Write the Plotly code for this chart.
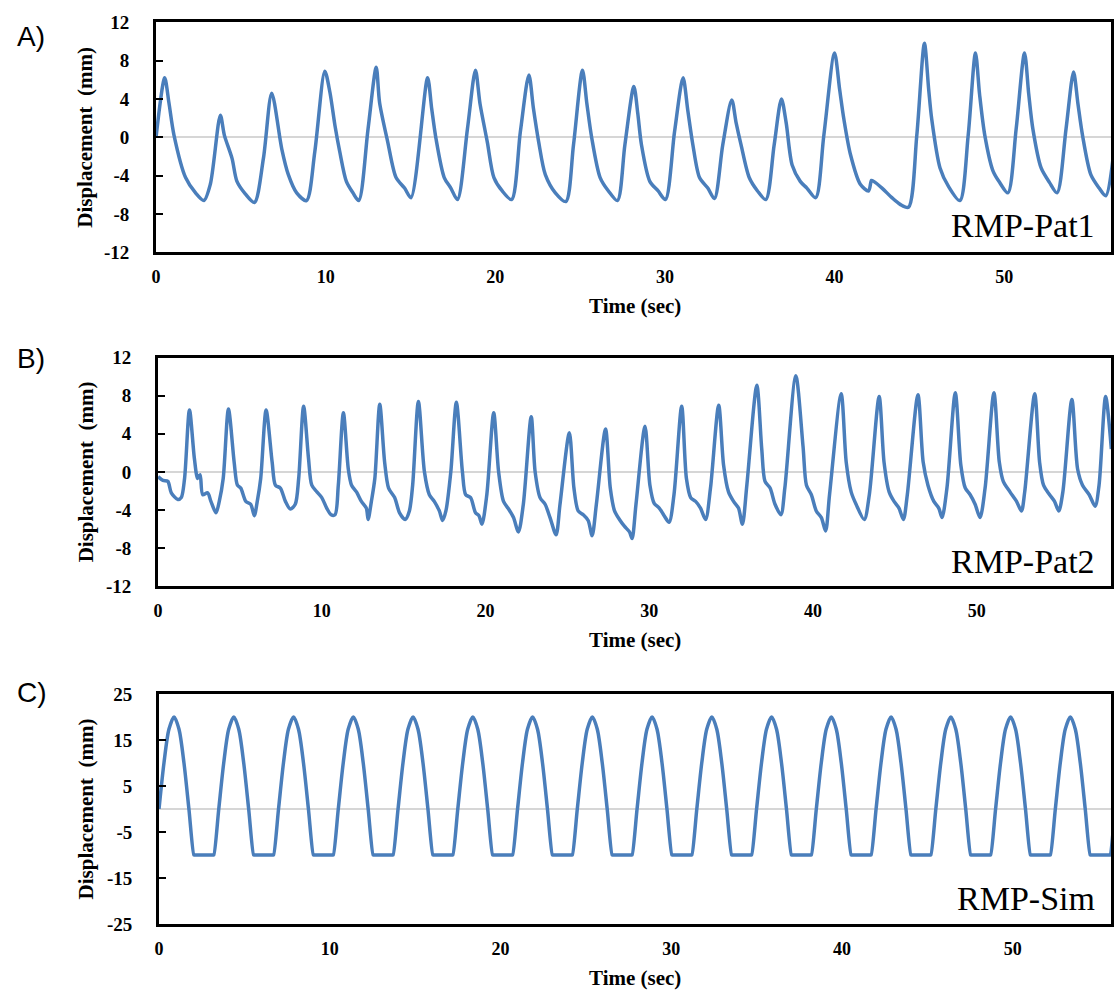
import plotly.graph_objects as go

W, H = 1114, 1003

# ---------------- Data ----------------
# Panel A: RMP-Pat1
pat1_time = [0, 0.51, 0.76, 1.06, 1.74, 2.33, 2.82, 3.2, 3.79, 4.03, 4.48, 4.77, 5.26, 5.8,
             6.33, 6.82, 7.41, 7.8, 8.29, 8.87, 9.36, 9.95, 10.25, 10.55, 10.83, 11.22, 11.61, 11.95,
             12.5, 12.98, 13.18, 13.66, 14.15, 14.65, 15.03, 16.01, 16.25, 16.5, 16.99, 17.38, 17.77,
             18.36, 18.83, 19.1, 19.53, 19.92, 20.41, 20.96, 21.48, 21.98, 22.25, 22.56, 22.95, 23.54,
             24.16, 24.61, 25.14, 25.4, 25.69, 26.18, 26.67, 27.2, 27.64, 28.17, 28.4, 28.62, 29.11,
             29.6, 30.03, 30.57, 31.07, 31.35, 31.65, 32.04, 32.53, 32.92, 33.41, 33.94, 34.2, 34.49,
             34.97, 35.46, 35.95, 36.44, 36.87, 37.15, 37.5, 37.98, 38.37, 38.89, 39.37, 40.0, 40.3,
             40.55, 40.94, 41.52, 42.01, 42.18, 42.31, 42.8, 43.38, 43.87, 44.36, 44.85, 45.3, 45.55,
             45.73, 46.22, 46.71, 47.39, 47.88, 48.31, 48.55, 48.86, 49.34, 49.73, 50.22, 50.71, 51.2,
             51.45, 51.69, 52.18, 52.67, 53.12, 53.65, 54.09, 54.35, 54.62, 55.11, 55.6, 55.99, 56.4]
pat1_disp = [0, 6.2, 3.6, 0.2, -4.2, -5.8, -6.6, -4.9, 2.3, 0.2, -2.2, -4.6, -5.9, -6.8,
             -2.2, 4.6, -1.2, -3.9, -5.8, -6.6, -1.5, 6.9, 4.7, 1.2, -1.5, -4.6, -5.8, -6.6,
             0.9, 7.3, 3.6, -0.5, -4.2, -5.3, -6.3, 6.2, 3.0, -0.1, -4.2, -5.3, -6.5,
             0.9, 7.0, 3.5, -0.5, -4.2, -5.6, -6.5, 0.6, 6.5, 3.0, -0.5, -3.9, -5.8,
             -6.7, -0.8, 7.0, 3.5, -0.1, -4.2, -5.6, -6.6, -0.8, 5.3, 2.5, -0.8, -4.6,
             -5.6, -6.5, 0.6, 6.2, 2.8, -0.8, -4.2, -5.3, -6.4, -0.8, 3.9, 1.5, -0.8,
             -4.2, -5.6, -6.5, -0.8, 4.0, 1.5, -2.9, -4.6, -5.3, -6.3, 0.2, 8.8, 5.0,
             1.9, -1.8, -4.9, -5.6, -4.5, -4.6, -5.3, -6.3, -7.0, -7.3, 0.2, 9.8, 5.0,
             1.9, -3.2, -5.1, -6.6, 0.2, 8.8, 4.5, 0.2, -3.5, -4.7, -5.8, 0.9, 8.8,
             4.5, 0.9, -3.2, -4.7, -5.8, 0.9, 6.8, 3.5, 0.2, -3.9, -5.3, -6.1, -2.5]

# Panel B: RMP-Pat2
pat2_time = [0, 0.3, 0.6, 0.81, 1.21, 1.42, 1.62, 1.92, 2.22, 2.42, 2.57, 2.73, 3.03, 3.23, 3.54,
             3.74, 3.98, 4.3, 4.65, 4.85, 5.05, 5.36, 5.66, 5.88, 6.06, 6.27, 6.6, 6.97, 7.17, 7.47,
             7.78, 8.08, 8.38, 8.59, 8.89, 9.19, 9.39, 9.7, 10.0, 10.3, 10.57, 10.81, 11.01, 11.32,
             11.62, 11.82, 12.12, 12.42, 12.72, 12.83, 13.03, 13.24, 13.54, 13.84, 14.08, 14.45,
             14.75, 15.09, 15.35, 15.55, 15.9, 16.27, 16.57, 16.87, 17.18, 17.38, 17.58, 17.88,
             18.22, 18.59, 18.79, 19.09, 19.39, 19.6, 19.78, 20.08, 20.5, 20.8, 21.1, 21.41, 21.71,
             22.01, 22.31, 22.79, 23.03, 23.33, 23.64, 23.94, 24.31, 24.55, 25.12, 25.4, 25.66,
             25.97, 26.27, 26.51, 26.77, 27.33, 27.62, 27.88, 28.18, 28.48, 28.79, 28.95, 29.19,
             29.74, 30.04, 30.3, 30.61, 30.91, 31.21, 31.51, 31.98, 32.27, 32.53, 32.83, 33.13,
             33.44, 33.74, 34.24, 34.54, 34.84, 35.15, 35.45, 35.69, 35.96, 36.57, 36.87, 37.07,
             37.38, 37.68, 38.04, 38.28, 38.95, 39.39, 39.6, 39.9, 40.2, 40.51, 40.77, 41.01,
             41.72, 42.03, 42.33, 42.63, 43.13, 43.44, 44.04, 44.34, 44.65, 44.95, 45.25, 45.52,
             45.76, 46.41, 46.73, 47.02, 47.38, 47.68, 47.88, 48.18, 48.69, 49.03, 49.3, 49.6,
             49.9, 50.2, 50.51, 51.05, 51.38, 51.62, 52.03, 52.43, 52.73, 52.93, 53.54, 53.84,
             54.08, 54.45, 54.75, 55.01, 55.26, 55.81, 56.16, 56.46, 56.87, 57.23, 57.47, 57.87,
             58.22]
pat2_disp = [-0.5, -0.9, -1.0, -2.2, -2.9, -2.7, -0.7, 6.5, 1.4, -0.7, -0.3, -2.4, -2.2, -3.1, -4.3,
             -3.1, -0.7, 6.6, 1.0, -1.4, -1.7, -3.1, -3.4, -4.6, -3.1, -0.7, 6.5, 1.0, -1.4, -1.7,
             -3.1, -3.9, -3.4, -0.7, 6.9, 1.4, -1.4, -2.1, -2.7, -3.8, -4.5, -4.5, -1.4, 6.2,
             0.3, -1.4, -2.1, -3.1, -3.8, -5.0, -3.1, -0.7, 7.1, 1.0, -1.7, -2.7,
             -4.3, -5.0, -4.1, -1.4, 7.4, 0.0, -2.4, -3.1, -4.1, -5.1, -4.1, 0.0,
             7.3, 0.0, -2.4, -2.7, -4.3, -4.6, -5.5, -2.4, 6.2, 0.0, -3.1, -3.9, -4.8,
             -6.3, -3.4, 5.8, 0.0, -2.7, -3.4, -4.8, -6.6, -3.4, 4.1, -1.7, -4.1,
             -4.5, -5.1, -6.7, -3.4, 4.5, -1.7, -4.1, -5.0, -5.7, -6.3, -7.0, -3.4,
             4.8, -1.4, -3.3, -3.8, -4.6, -5.3, -2.4, 6.9, -0.7, -2.7, -3.1, -3.8,
             -5.0, -1.7, 7.0, 0.7, -2.1, -3.1, -3.8, -5.5, -1.4, 9.1, 2.4, -1.0,
             -1.7, -3.4, -4.5, -1.7, 10.1, 2.7, -1.4, -2.4, -4.1, -4.8, -6.2, -2.4,
             8.2, 1.0, -2.1, -3.4, -5.0, -2.4, 7.9, 1.0, -2.1, -3.1, -3.8, -5.0,
             -2.4, 8.1, 1.0, -1.4, -3.1, -3.8, -4.8, -1.7, 8.3, 0.7, -1.7, -2.4,
             -3.4, -4.8, -1.7, 8.3, 1.0, -1.0, -2.1, -3.1, -4.1, -2.1, 8.2, 1.0,
             -1.4, -2.4, -3.1, -4.1, -2.1, 7.6, 0.3, -1.4, -2.4, -3.6, -1.4, 7.9,
             2.4]

# Panel C: RMP-Sim
sim_time = [0, 0.29, 0.58, 0.88, 1.17, 1.46, 1.75, 2.04, 2.07, 3.18, 3.21,
            3.5, 3.79, 4.08, 4.38, 4.67, 4.96, 5.25, 5.54, 5.57, 6.68, 6.71,
            7, 7.29, 7.58, 7.88, 8.17, 8.46, 8.75, 9.04, 9.07, 10.18, 10.21,
            10.5, 10.79, 11.08, 11.38, 11.67, 11.96, 12.25, 12.54, 12.57, 13.68, 13.71,
            14, 14.29, 14.58, 14.88, 15.17, 15.46, 15.75, 16.04, 16.07, 17.18, 17.21,
            17.5, 17.79, 18.08, 18.38, 18.67, 18.96, 19.25, 19.54, 19.57, 20.68, 20.71,
            21, 21.29, 21.58, 21.88, 22.17, 22.46, 22.75, 23.04, 23.07, 24.18, 24.21,
            24.5, 24.79, 25.08, 25.38, 25.67, 25.96, 26.25, 26.54, 26.57, 27.68, 27.71,
            28, 28.29, 28.58, 28.88, 29.17, 29.46, 29.75, 30.04, 30.07, 31.18, 31.21,
            31.5, 31.79, 32.08, 32.38, 32.67, 32.96, 33.25, 33.54, 33.57, 34.68, 34.71,
            35, 35.29, 35.58, 35.88, 36.17, 36.46, 36.75, 37.04, 37.07, 38.18, 38.21,
            38.5, 38.79, 39.08, 39.38, 39.67, 39.96, 40.25, 40.54, 40.57, 41.68, 41.71,
            42, 42.29, 42.58, 42.88, 43.17, 43.46, 43.75, 44.04, 44.07, 45.18, 45.21,
            45.5, 45.79, 46.08, 46.38, 46.67, 46.96, 47.25, 47.54, 47.57, 48.68, 48.71,
            49, 49.29, 49.58, 49.88, 50.17, 50.46, 50.75, 51.04, 51.07, 52.18, 52.21,
            52.5, 52.79, 53.08, 53.38, 53.67, 53.96, 54.25, 54.54, 54.57, 55.68, 55.71,
            56, 56.29]
sim_disp = [0, 10, 17.3, 20, 17.3, 10, 0, -10, -10, -10, -10,
            0, 10, 17.3, 20, 17.3, 10, 0, -10, -10, -10, -10,
            0, 10, 17.3, 20, 17.3, 10, 0, -10, -10, -10, -10,
            0, 10, 17.3, 20, 17.3, 10, 0, -10, -10, -10, -10,
            0, 10, 17.3, 20, 17.3, 10, 0, -10, -10, -10, -10,
            0, 10, 17.3, 20, 17.3, 10, 0, -10, -10, -10, -10,
            0, 10, 17.3, 20, 17.3, 10, 0, -10, -10, -10, -10,
            0, 10, 17.3, 20, 17.3, 10, 0, -10, -10, -10, -10,
            0, 10, 17.3, 20, 17.3, 10, 0, -10, -10, -10, -10,
            0, 10, 17.3, 20, 17.3, 10, 0, -10, -10, -10, -10,
            0, 10, 17.3, 20, 17.3, 10, 0, -10, -10, -10, -10,
            0, 10, 17.3, 20, 17.3, 10, 0, -10, -10, -10, -10,
            0, 10, 17.3, 20, 17.3, 10, 0, -10, -10, -10, -10,
            0, 10, 17.3, 20, 17.3, 10, 0, -10, -10, -10, -10,
            0, 10, 17.3, 20, 17.3, 10, 0, -10, -10, -10, -10,
            0, 10, 17.3, 20, 17.3, 10, 0, -10, -10, -10, -10,
            0, 10]

time_ticks = [0, 10, 20, 30, 40, 50]
pat_yticks = [-12, -8, -4, 0, 4, 8, 12]
pat_ytext = ["-12", "-8", "-4", "0", "4", "8", "12"]
sim_yticks = [-25, -15, -5, 5, 15, 25]
sim_ytext = ["-25", "-15", "-5", "5", "15", "25"]

panel_letters = ["A)", "B)", "C)"]
panel_names = ["RMP-Pat1", "RMP-Pat2", "RMP-Sim"]
x_title = "Time (sec)"
y_title = "Displacement  (mm)"

# ---------------- Layout geometry (pixels) ----------------
def px_x(p):
    return p / W

def px_y(p):
    return 1 - p / H

panels = [
    dict(left=152, top=12.5, bottom=247.5, xmax=56.3, yr=[-12, 12], yt=pat_yticks, ytt=pat_ytext,
         t=pat1_time, v=pat1_disp, title_y=302, label_y=27, name_y=220),
    dict(left=154, top=355, bottom=588.5, xmax=58.2, yr=[-12, 12], yt=pat_yticks, ytt=pat_ytext,
         t=pat2_time, v=pat2_disp, title_y=643, label_y=356, name_y=563),
    dict(left=155, top=698.5, bottom=933.5, xmax=55.76, yr=[-25, 25], yt=sim_yticks, ytt=sim_ytext,
         t=sim_time, v=sim_disp, title_y=989, label_y=697, name_y=907),
]

LINE_COLOR = "#4A7EBB"
SERIF = "Liberation Serif, Times New Roman, serif"

fig = go.Figure()
annotations = []
layout = dict(
    width=W, height=H,
    margin=dict(l=0, r=0, t=0, b=0),
    paper_bgcolor="white", plot_bgcolor="white",
    showlegend=False,
)

for i, p in enumerate(panels):
    n = "" if i == 0 else str(i + 1)
    xa, ya = "x" + n, "y" + n
    fig.add_trace(go.Scatter(x=p["t"], y=p["v"], mode="lines", xaxis=xa, yaxis=ya,
                             line=dict(color=LINE_COLOR, width=3.5, shape="spline", smoothing=0.8),
                             hoverinfo="skip"))
    layout["xaxis" + n] = dict(
        domain=[px_x(p["left"]), px_x(1113)], range=[0, p["xmax"]], anchor=ya,
        tickvals=time_ticks, ticktext=[str(v) for v in time_ticks],
        showline=True, mirror=True, linecolor="black", linewidth=3,
        showgrid=False, zeroline=False,
        ticks="outside", ticklen=6, tickcolor="rgba(0,0,0,0)",
        tickfont=dict(family=SERIF, size=18, color="black", weight="bold"),
    )
    layout["yaxis" + n] = dict(
        domain=[px_y(p["bottom"]), px_y(p["top"])], range=p["yr"], anchor=xa,
        tickvals=p["yt"], ticktext=p["ytt"],
        showline=True, mirror=True, linecolor="black", linewidth=3,
        showgrid=False, zeroline=True, zerolinecolor="#d6d6d6", zerolinewidth=1.5,
        ticks="inside", ticklen=7, tickwidth=2, tickcolor="black",
        ticklabelstandoff=20,
        tickfont=dict(family=SERIF, size=19, color="black", weight="bold"),
    )
    annotations.append(dict(
        text=y_title, x=px_x(81), y=px_y((p["top"] + p["bottom"]) / 2), xref="paper", yref="paper",
        textangle=-90, showarrow=False, xanchor="center", yanchor="middle",
        font=dict(family=SERIF, size=21, color="black", weight="bold")))
    annotations.append(dict(
        text=x_title, x=px_x(634), y=px_y(p["title_y"]), xref="paper", yref="paper",
        showarrow=False, xanchor="center", yanchor="middle",
        font=dict(family=SERIF, size=21, color="black", weight="bold")))
    annotations.append(dict(
        text=panel_letters[i], x=px_x(10), y=px_y(p["label_y"]), xref="paper", yref="paper",
        showarrow=False, xanchor="left", yanchor="middle",
        font=dict(family="Liberation Sans, Arial, sans-serif", size=28, color="black")))
    annotations.append(dict(
        text=panel_names[i], x=px_x(1099), y=px_y(p["name_y"]), xref="paper", yref="paper",
        showarrow=False, xanchor="right", yanchor="middle",
        font=dict(family=SERIF, size=34, color="black")))

layout["annotations"] = annotations
fig.update_layout(**layout)
fig.write_html("out.html")
